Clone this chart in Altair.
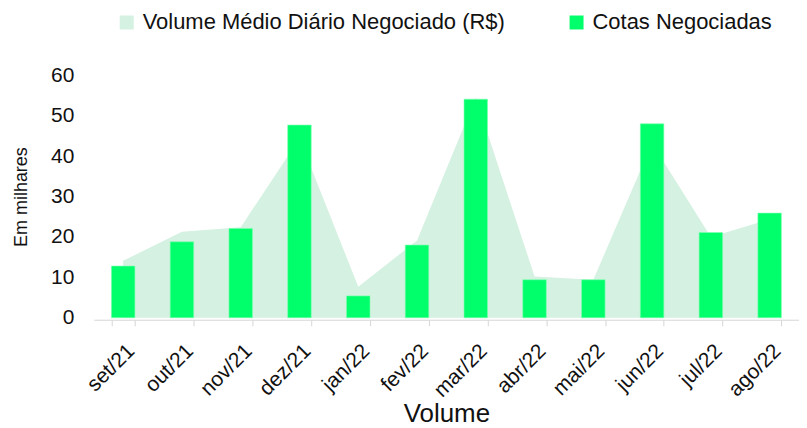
import altair as alt
import pandas as pd

meses = ["set/21", "out/21", "nov/21", "dez/21", "jan/22", "fev/22",
         "mar/22", "abr/22", "mai/22", "jun/22", "jul/22", "ago/22"]
cotas = [12.8, 18.8, 22.1, 47.7, 5.4, 18.0, 54.1, 9.4, 9.4, 48.0, 21.1, 25.9]
volume = [14.1, 21.3, 22.4, 44.4, 7.7, 19.1, 54.5, 10.2, 9.4, 43.2, 20.0, 24.4]

serie_area = "Volume Médio Diário Negociado (R$)"
serie_bar = "Cotas Negociadas"
cor_area = "#d5f1e1"
cor_bar = "#00ff6a"
FONT = "Liberation Sans"

df = pd.DataFrame({"mes": meses, "cotas": cotas, "volume": volume})
df_area = df.assign(serie=serie_area)
df_bar = df.assign(serie=serie_bar)

x = alt.X("mes:N", sort=meses,
          scale=alt.Scale(paddingInner=0.6, paddingOuter=0.3),
          axis=alt.Axis(title="Volume", labelAngle=-45, tickBand="extent",
                        domainColor="#d6d6d6", tickColor="#d6d6d6", tickSize=6,
                        labelFontSize=21, titleFontSize=26, labelPadding=14,
                        titlePadding=0, offset=2, labelColor="#111", titleColor="#111",
                        titleFontWeight="normal", labelFont=FONT, titleFont=FONT))

color_scale = alt.Scale(domain=[serie_area, serie_bar], range=[cor_area, cor_bar])
legend = alt.Legend(title=None, orient="none", legendX=22, legendY=-64,
                    direction="horizontal",
                    symbolType="square", symbolSize=196,
                    symbolStrokeWidth=0, labelFontSize=22,
                    labelFont=FONT, labelColor="#111",
                    columnPadding=60, labelOffset=5, labelLimit=500)

y_axis = alt.Axis(title="Em milhares", values=[0, 10, 20, 30, 40, 50, 60],
                  domain=False, ticks=False, grid=False, labelPadding=20,
                  labelFontSize=21, titleFontSize=18, titlePadding=20,
                  labelColor="#111", titleColor="#111", titleFontWeight="normal",
                  labelFont=FONT, titleFont=FONT)

area = alt.Chart(df_area).mark_area(interpolate="linear", opacity=1).encode(
    x=x,
    y=alt.Y("volume:Q", scale=alt.Scale(domain=[0, 60]), axis=y_axis),
    color=alt.Color("serie:N", scale=color_scale, legend=legend),
)

bars = alt.Chart(df_bar).mark_bar(opacity=1, stroke="#7dffb0", strokeWidth=0.6).encode(
    x=x,
    y=alt.Y("cotas:Q", scale=alt.Scale(domain=[0, 60]), axis=y_axis),
    color=alt.Color("serie:N", scale=color_scale, legend=legend),
)

chart = alt.layer(area, bars).properties(
    width=707, height=243,
    padding={"left": 4, "top": 3, "right": 0, "bottom": 0},
).configure(font=FONT).configure_view(stroke=None)

chart.save("out.html", embed_options={"renderer": "svg", "actions": False})
